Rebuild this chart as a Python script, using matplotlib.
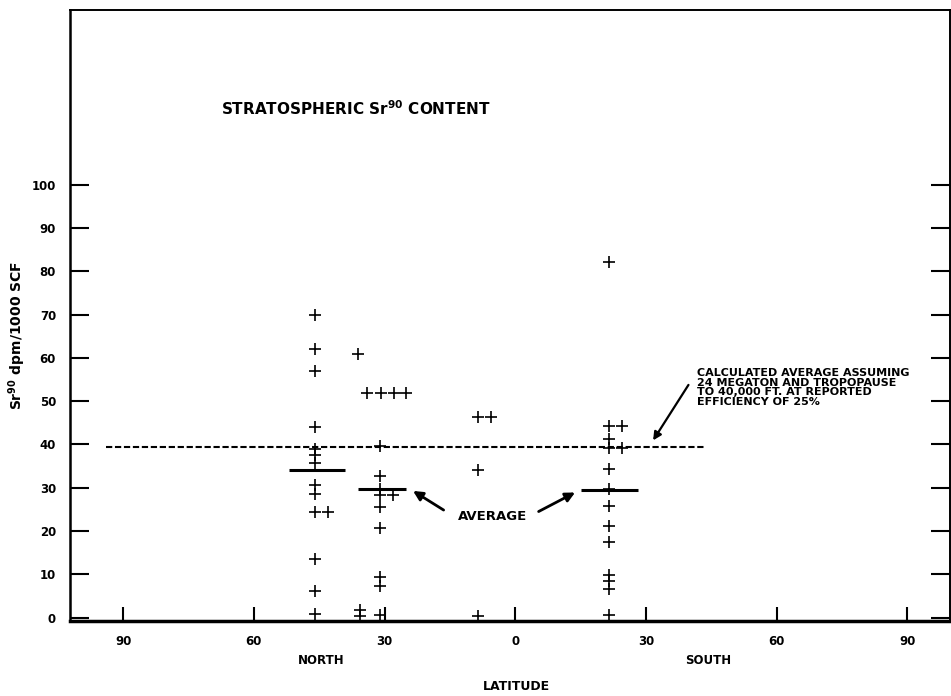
import matplotlib
matplotlib.use("Agg")
import matplotlib.pyplot as plt
import numpy as np

plt.rcParams['font.family'] = ['DejaVu Sans']
plt.rcParams['font.weight'] = 'bold'

# latitude in degrees (north > 0 in the lists, plotted to the left of 0)
north_lat = [46, 46, 46, 46, 46, 46, 46, 46, 46, 46, 43, 46, 46, 46,
             36, 35.6, 35.6,
             34.1, 30.9, 27.9, 25.1,
             31, 31, 31, 31, 28, 31, 31, 31, 31, 31,
             8.5, 5.6, 8.5, 8.5]
north_val = [70, 62, 57, 44, 39, 37.5, 35.7, 30.7, 28.6, 24.5, 24.5, 13.6, 6.2, 0.8,
             61, 1.8, 0.3,
             52, 52, 52, 52,
             39.7, 32.6, 29.8, 28.4, 28.4, 25.6, 20.7, 9.4, 7.2, 0.7,
             46.3, 46.3, 34.2, 0.4]
south_lat = [21.5, 21.5, 24.6, 21.5, 21.5, 24.6, 21.5, 21.5, 21.5, 21.5, 21.5,
             21.5, 21.5, 21.5, 21.5]
south_val = [82.1, 44.2, 44.2, 41.3, 39.2, 39.2, 34.3, 29.7, 25.7, 21.2, 17.4,
             9.9, 8.4, 6.6, 0.7]

# averages: (from lat, to lat, value), signed: north negative
avg_from = [-52, -36, 15]
avg_to = [-39, -25, 28.2]
avg_val = [34.0, 29.8, 29.5]

calc_avg = 39.4
calc_from, calc_to = -94, 43.6

xtick_pos = [-90, -60, -30, 0, 30, 60, 90]
xtick_lab = ['90', '60', '30', '0', '30', '60', '90']
ytick_pos = list(range(0, 101, 10))

fig = plt.figure(figsize=(9.51, 6.96), dpi=100)
ax = fig.add_axes([70/951, 1-621/696, 881/951 - 0.001, 611/696])

xs = [-v for v in north_lat] + south_lat
ys = north_val + south_val
ax.plot(xs, ys, linestyle='none', marker='+', color='black', markersize=9, mew=1.2)

ax.hlines(avg_val, avg_from, avg_to, colors='black', lw=2.2)
ax.hlines(calc_avg, calc_from, calc_to, colors='black', lw=1.5, linestyles=(0, (3, 1.3)))

ax.set_xlim(-102.2, 99.8)
ax.set_ylim(-0.8, 140.4)
ax.set_xticks(xtick_pos)
ax.set_xticklabels(xtick_lab)
ax.set_yticks(ytick_pos)
ax.tick_params(axis='x', direction='in', length=10, width=1.5, labelsize=8.5, pad=10)
ax.tick_params(axis='y', direction='in', length=14, width=1.5, labelsize=8.5, pad=10,
               right=True)
for lab in ax.get_xticklabels() + ax.get_yticklabels():
    lab.set_fontweight('bold')

ax.spines['bottom'].set_linewidth(2.5)
ax.spines['left'].set_linewidth(1.8)
ax.spines['top'].set_linewidth(1.4)
ax.spines['right'].set_linewidth(1.4)

ax.text(-67.5, 117.5, 'STRATOSPHERIC Sr$^{\\mathbf{90}}$ CONTENT', fontsize=11,
        fontweight='bold', va='center', ha='left')

ax.text(-5.3, 23.3, 'AVERAGE', fontsize=9.5, fontweight='bold', ha='center', va='center')
ax.annotate('', xy=(-24, 29.6), xytext=(-15.9, 24.5),
            arrowprops=dict(arrowstyle='-|>', color='black', lw=2, mutation_scale=14))
ax.annotate('', xy=(14.3, 29.2), xytext=(4.8, 24.2),
            arrowprops=dict(arrowstyle='-|>', color='black', lw=2, mutation_scale=14))

ax.text(41.8, 57.6, 'CALCULATED AVERAGE ASSUMING\n24 MEGATON AND TROPOPAUSE\n'
        'TO 40,000 FT. AT REPORTED\nEFFICIENCY OF 25%',
        fontsize=8, fontweight='bold', ha='left', va='top', linespacing=0.95)
ax.annotate('', xy=(31.3, 40.4), xytext=(40.1, 54.3),
            arrowprops=dict(arrowstyle='-|>', color='black', lw=1.6, mutation_scale=12))

fig.text(17/951, 1-335/696, 'Sr$^{\\mathbf{90}}$ dpm/1000 SCF', rotation=90,
         fontsize=10, fontweight='bold', ha='center', va='center')
fig.text(321/951, 1-660/696, 'NORTH', fontsize=8.5, fontweight='bold', ha='center', va='center')
fig.text(708/951, 1-660/696, 'SOUTH', fontsize=8.5, fontweight='bold', ha='center', va='center')
fig.text(516/951, 1-687/696, 'LATITUDE', fontsize=9, fontweight='bold', ha='center', va='center')

fig.savefig('out.png', dpi=100)
